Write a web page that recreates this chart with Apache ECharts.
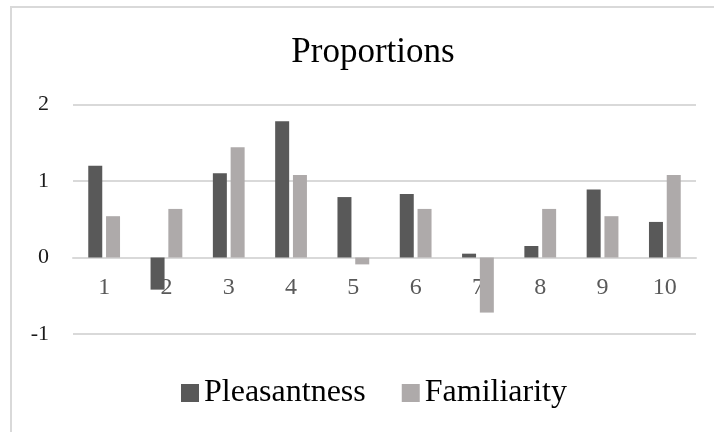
<!DOCTYPE html>
<html>
<head>
<meta charset="utf-8">
<script src="https://cdn.jsdelivr.net/npm/echarts@6/dist/echarts.min.js"></script>
<style>
  html, body { margin: 0; padding: 0; background: #ffffff; }
  #chart { width: 714px; height: 432px; }
</style>
</head>
<body>
<div id="chart"></div>
<script>
// Category labels along the x axis
const categories = ['1', '2', '3', '4', '5', '6', '7', '8', '9', '10'];

// Series values
const pleasantness = [1.20, -0.42, 1.10, 1.78, 0.79, 0.83, 0.05, 0.15, 0.89, 0.465];
const familiarity = [0.54, 0.635, 1.44, 1.08, -0.09, 0.635, -0.72, 0.635, 0.54, 1.08];

// Value axis range
const yMin = -1;
const yMax = 2;
const yStep = 1;

const serif = '"Liberation Serif", "DejaVu Serif", serif';

// Plot area
const gridTop = 104.5;
const gridBottom = 98;
const plotHeight = 432 - gridTop - gridBottom;
// Lift the category axis (line and labels) up to the zero value
const zeroLift = plotHeight * (0 - yMin) / (yMax - yMin);

const chart = echarts.init(document.getElementById('chart'), null, { renderer: 'canvas' });

chart.setOption({
  backgroundColor: '#ffffff',
  animation: false,
  title: {
    text: 'Proportions',
    left: 368,
    top: 30,
    textAlign: 'center',
    textStyle: { fontFamily: serif, fontSize: 35, fontWeight: 'normal', color: '#000000' }
  },
  legend: {
    left: 176,
    top: 372,
    itemWidth: 18,
    itemHeight: 18,
    itemGap: 36,
    icon: 'rect',
    textStyle: { fontFamily: serif, fontSize: 32, color: '#000000', padding: [0, 0, 0, 0] },
    data: ['Pleasantness', 'Familiarity']
  },
  grid: { left: 73, right: 18, top: gridTop, bottom: gridBottom, containLabel: false },
  xAxis: {
    type: 'category',
    data: categories,
    offset: -zeroLift,
    z: 0,
    axisLine: { onZero: false, lineStyle: { color: '#d9d9d9', width: 2 } },
    axisTick: { show: false },
    axisLabel: { fontFamily: serif, fontSize: 24, color: '#595959', margin: 18 },
    splitLine: { show: false }
  },
  yAxis: {
    type: 'value',
    min: yMin,
    max: yMax,
    interval: yStep,
    axisLine: { show: false },
    axisTick: { show: false },
    axisLabel: { fontFamily: serif, fontSize: 22, color: '#1a1a1a', margin: 24 },
    splitLine: { lineStyle: { color: '#d9d9d9', width: 2 } }
  },
  series: [
    {
      name: 'Pleasantness',
      type: 'bar',
      z: 5,
      data: pleasantness,
      itemStyle: { color: '#595959' },
      barGap: '27%',
      barCategoryGap: '49%'
    },
    {
      name: 'Familiarity',
      type: 'bar',
      z: 5,
      data: familiarity,
      itemStyle: { color: '#aeaaaa' },
      barGap: '27%',
      barCategoryGap: '49%'
    }
  ],
  graphic: [
    { type: 'line', shape: { x1: 11, y1: 6, x2: 11, y2: 432 }, style: { stroke: '#d9d9d9', lineWidth: 2 } },
    { type: 'line', shape: { x1: 10, y1: 7, x2: 714, y2: 7 }, style: { stroke: '#d9d9d9', lineWidth: 2 } }
  ]
});
</script>
</body>
</html>
